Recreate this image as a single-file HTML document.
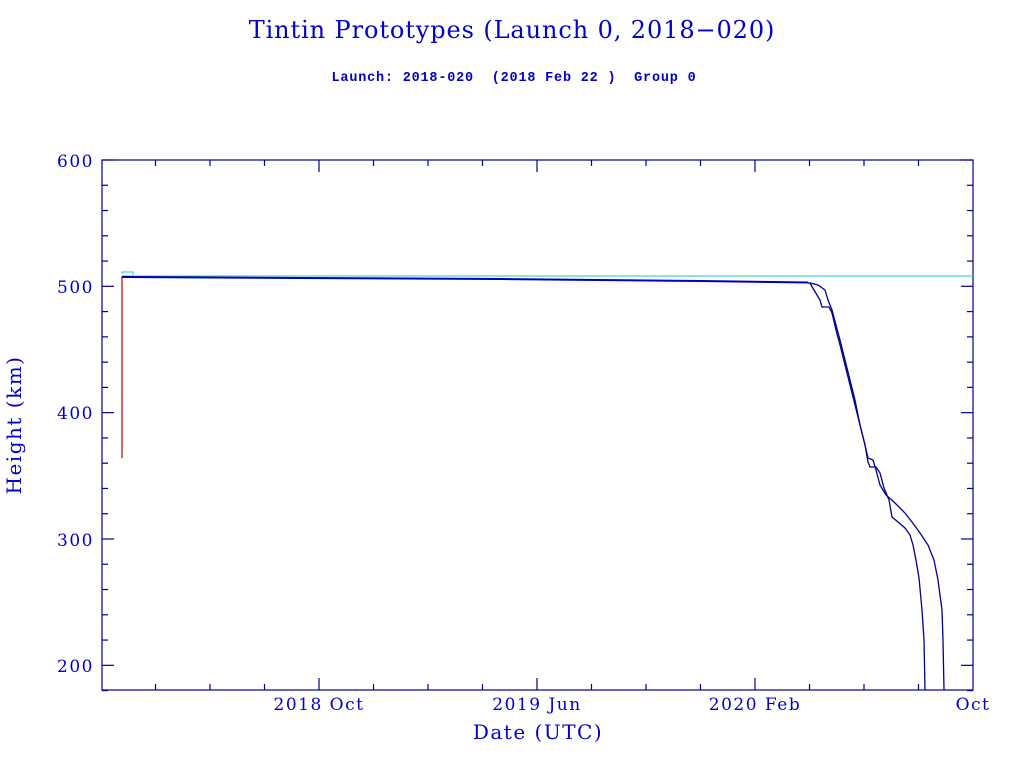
<!DOCTYPE html>
<html><head><meta charset="utf-8"><style>
html,body{margin:0;padding:0;background:#fff;width:1024px;height:768px;overflow:hidden}
svg text{font-family:"DejaVu Serif","Liberation Serif",serif;fill:#0000c8}
</style></head><body>
<svg id="s" width="1024" height="768" xmlns="http://www.w3.org/2000/svg">
<text x="512" y="38" font-size="24" letter-spacing="0.9" text-anchor="middle">Tintin Prototypes (Launch 0, 2018−020)</text>
<text x="514" y="81" font-size="13.5" letter-spacing="0.8" text-anchor="middle" style="font-family:'Liberation Mono',monospace;white-space:pre;font-weight:bold">Launch: 2018-020  (2018 Feb 22 )  Group 0</text>
<rect x="102" y="160" width="871" height="530" fill="none" stroke="#00008b" stroke-width="1.2"/>
<g id="ticks" stroke="#00008b" stroke-width="1.2"></g>
<g font-size="17" letter-spacing="1.5">
<text x="94" y="167" text-anchor="end">600</text>
<text x="94" y="293" text-anchor="end">500</text>
<text x="94" y="419" text-anchor="end">400</text>
<text x="94" y="546" text-anchor="end">300</text>
<text x="94" y="672" text-anchor="end">200</text>
<text x="319" y="710" text-anchor="middle">2018 Oct</text>
<text x="537" y="710" text-anchor="middle">2019 Jun</text>
<text x="755" y="710" text-anchor="middle">2020 Feb</text>
<text x="973" y="710" text-anchor="middle">Oct</text>
</g>
<text x="538" y="739" font-size="20" letter-spacing="1.5" text-anchor="middle">Date (UTC)</text>
<text transform="translate(21,425) rotate(-90)" font-size="20" letter-spacing="1.5" text-anchor="middle">Height (km)</text>
<line x1="122" y1="276" x2="122" y2="458" stroke="#c00000" stroke-width="1.2"/>
<polyline points="122,274 122,272 133,272 133,275" fill="none" stroke="#40d8d8" stroke-width="1.2"/>
<line x1="122" y1="276" x2="973" y2="276" stroke="#40d8d8" stroke-width="1.2"/>
<polyline points="122,277 300,278 500,279 700,281 808,282.5" fill="none" stroke="#0000b0" stroke-width="2"/>
<polyline points="808,283 810,283 814,290 820,300 822,307 829,307 832,313 836,330 840,345 845,365 850,385 855,405 860,425 865,445 868,462 870,467 876,467 880,473 884,488 889,500 892,517 898,522 905,528 910,535 913,545 916,560 919,578 922,610 924,640 925,690" fill="none" stroke="#00008b" stroke-width="1.3"/>
<polyline points="808,283 810,283 818,285 825,290 828,300 832,310 836,325 840,340 845,360 850,380 855,400 860,425 865,445 868,458 873,460 876,470 880,485 886,495 895,503 905,513 912,522 920,533 928,545 934,560 938,580 942,610 943,640 944,690" fill="none" stroke="#00008b" stroke-width="1.3"/>
</svg>
<script>
var g=document.getElementById('ticks'),h='';
for(var v=180;v<=600;v+=20){var y=160+(600-v)*1.2633;var L=(v%100==0)?12:6;
h+='<line x1="102" y1="'+y+'" x2="'+(102+L)+'" y2="'+y+'"/><line x1="973" y1="'+y+'" x2="'+(973-L)+'" y2="'+y+'"/>';}
for(var i=-3;i<=12;i++){var x=319+i*54.5;if(x<=103||x>=972)continue;var L=(i%4==0)?12:6;
h+='<line x1="'+x+'" y1="690" x2="'+x+'" y2="'+(690-L)+'"/><line x1="'+x+'" y1="160" x2="'+x+'" y2="'+(160+L)+'"/>';}
g.innerHTML=h;
</script>
</body></html>
